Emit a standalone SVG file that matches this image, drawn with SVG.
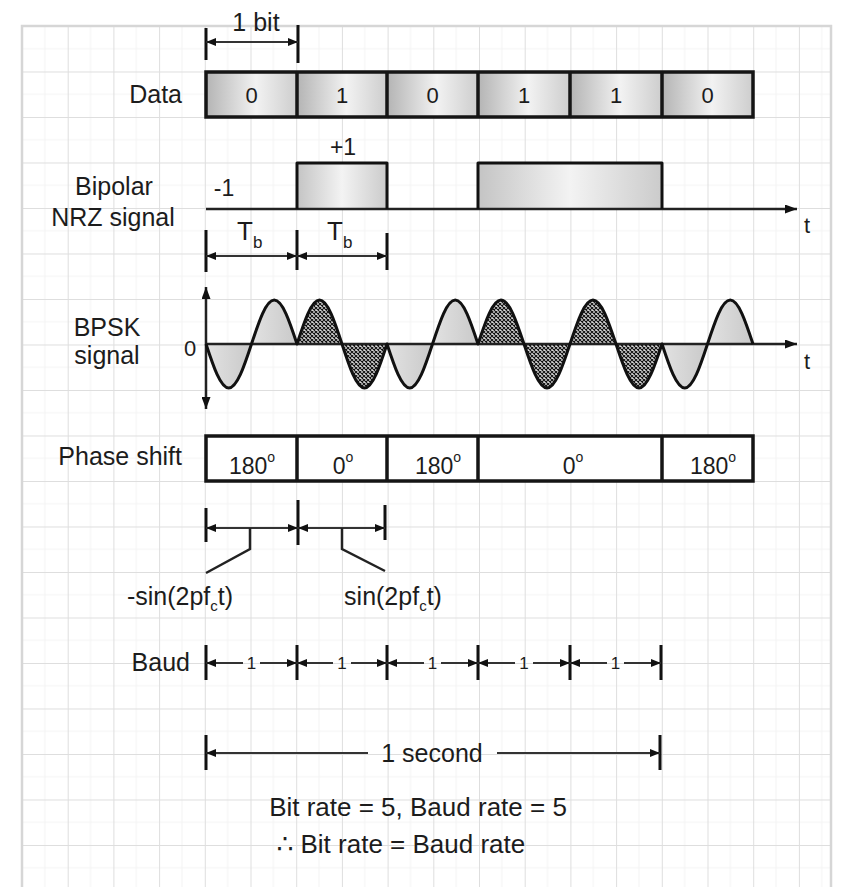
<svg xmlns="http://www.w3.org/2000/svg" width="841" height="887" viewBox="0 0 841 887">
<style>
text{font-family:"Liberation Sans",Arial,"DejaVu Sans",sans-serif;fill:#1c1c1c}
.lbl{font-size:25px}
.mid{text-anchor:middle}
.end{text-anchor:end}
.dig{font-size:22px;text-anchor:middle}
.box{fill:none;stroke:#151515;stroke-width:3.5}
.div{stroke:#151515;stroke-width:3.5}
.sig{fill:none;stroke:#111;stroke-width:3;stroke-linejoin:round}
.axis{stroke:#222;stroke-width:2.5;fill:none}
.dim{stroke:#333;stroke-width:2;fill:none}
.tick{stroke:#111;stroke-width:3}
.lead{stroke:#222;stroke-width:2.5;fill:none}
.lobeG{fill:url(#lobeGrad);stroke:none}
.lobeH{fill:url(#hatch);stroke:none}
</style>
<defs>
<pattern id="grid" x="22" y="26" width="45.7" height="45.5" patternUnits="userSpaceOnUse">
<path d="M22.85,0V45.5M0,22.75H45.7" stroke="#f3f3f3" stroke-width="1"/>
<path d="M0,0V45.5M0,0H45.7" stroke="#dedede" stroke-width="2"/>
</pattern>
<pattern id="hatch" width="4" height="4" patternUnits="userSpaceOnUse">
<rect width="4" height="4" fill="#d8d8d8"/>
<path d="M0,0L4,4M4,0L0,4" stroke="#111" stroke-width="1.1"/>
</pattern>
<linearGradient id="cellGrad" x1="0" y1="0" x2="1" y2="0">
<stop offset="0" stop-color="#b4b4b4"/><stop offset="0.55" stop-color="#f2f2f2"/><stop offset="1" stop-color="#cdcdcd"/>
</linearGradient>
<linearGradient id="pulseGrad" x1="0" y1="0" x2="1" y2="0">
<stop offset="0" stop-color="#c4c4c4"/><stop offset="0.5" stop-color="#f3f3f3"/><stop offset="1" stop-color="#cbcbcb"/>
</linearGradient>
<linearGradient id="lobeGrad" x1="0" y1="0" x2="1" y2="0">
<stop offset="0" stop-color="#e2e2e2"/><stop offset="1" stop-color="#c9c9c9"/>
</linearGradient>
<marker id="ah" viewBox="0 0 10 8" refX="10" refY="4" markerWidth="10" markerHeight="8" markerUnits="userSpaceOnUse" orient="auto-start-reverse">
<path d="M0,0L10,4L0,8z" fill="#111"/>
</marker>
<marker id="ax" viewBox="0 0 12 9" refX="12" refY="4.5" markerWidth="12" markerHeight="9" markerUnits="userSpaceOnUse" orient="auto-start-reverse">
<path d="M0,0L12,4.5L0,9z" fill="#111"/>
</marker>
</defs>

<g id="background">
<rect width="841" height="887" fill="#fff"/>
<rect x="22" y="26" width="809" height="861" fill="url(#grid)"/>
<path d="M22,887V26H831V887" fill="none" stroke="#d6d6d6" stroke-width="2.5"/>
</g>

<g id="labels">
<text class="lbl mid" x="256" y="31">1 bit</text>
<text class="lbl end" x="182" y="103">Data</text>
<text class="lbl mid" x="343" y="155" style="font-size:23px">+1</text>
<text class="lbl mid" x="224" y="196" style="font-size:23px">-1</text>
<text class="lbl mid" x="114" y="195">Bipolar</text>
<text class="lbl mid" x="113" y="226">NRZ signal</text>
<text class="lbl mid" x="807" y="233" style="font-size:22px">t</text>
<text class="lbl" x="237" y="240" style="font-size:26px">T<tspan dy="8" style="font-size:17px">b</tspan></text>
<text class="lbl" x="327" y="240" style="font-size:26px">T<tspan dy="8" style="font-size:17px">b</tspan></text>
<text class="lbl mid" x="107" y="336">BPSK</text>
<text class="lbl mid" x="107" y="364">signal</text>
<text class="lbl mid" x="190" y="356" style="font-size:22px">0</text>
<text class="lbl mid" x="807" y="369" style="font-size:22px">t</text>
<text class="lbl end" x="182" y="465">Phase shift</text>
<text class="lbl mid" x="180" y="605">-sin(2pf<tspan dy="6" style="font-size:15px">c</tspan><tspan dy="-6">t)</tspan></text>
<text class="lbl mid" x="393" y="605">sin(2pf<tspan dy="6" style="font-size:15px">c</tspan><tspan dy="-6">t)</tspan></text>
<text class="lbl end" x="190" y="671">Baud</text>
<text class="lbl mid" x="432" y="762">1 second</text>
<text class="lbl mid" x="418" y="816" style="font-size:26px">Bit rate = 5, Baud rate = 5</text>
<text class="lbl mid" x="401" y="853" style="font-size:26px">∴ Bit rate = Baud rate</text>
</g>

<g id="data-row">
<rect x="206" y="72" width="91" height="45" fill="url(#cellGrad)"/>
<rect x="297" y="72" width="90" height="45" fill="url(#cellGrad)"/>
<rect x="387" y="72" width="91" height="45" fill="url(#cellGrad)"/>
<rect x="478" y="72" width="92" height="45" fill="url(#cellGrad)"/>
<rect x="570" y="72" width="92" height="45" fill="url(#cellGrad)"/>
<rect x="662" y="72" width="91" height="45" fill="url(#cellGrad)"/>
<rect class="box" x="206" y="72" width="547" height="45"/>
<path class="div" d="M297,72V117M387,72V117M478,72V117M570,72V117M662,72V117"/>
<text class="dig" x="251.5" y="103">0</text>
<text class="dig" x="342" y="103">1</text>
<text class="dig" x="432.5" y="103">0</text>
<text class="dig" x="524" y="103">1</text>
<text class="dig" x="616" y="103">1</text>
<text class="dig" x="707.5" y="103">0</text>
</g>

<g id="bipolar-nrz">
<rect x="297" y="163" width="90" height="46" fill="url(#pulseGrad)"/>
<rect x="478" y="163" width="184" height="46" fill="url(#pulseGrad)"/>
<line class="axis" x1="206" y1="209" x2="797" y2="209" marker-end="url(#ax)"/>
<path class="sig" d="M297,209V163H387V209M478,209V163H662V209"/>
</g>

<g id="bpsk-signal">
<path class="lobeG" d="M206,344 C213.42,366.54 220.52,388 228.75,388 C236.98,388 244.08,366.54 251.5,344Z"/>
<path class="lobeG" d="M251.5,344 C258.92,321.46 266.02,300 274.25,300 C282.48,300 289.58,321.46 297,344Z"/>
<path class="lobeH" d="M297,344 C304.34,321.46 311.36,300 319.5,300 C327.64,300 334.66,321.46 342,344Z"/>
<path class="lobeH" d="M342,344 C349.34,366.54 356.36,388 364.5,388 C372.64,388 379.66,366.54 387,344Z"/>
<path class="lobeG" d="M387,344 C394.42,366.54 401.52,388 409.75,388 C417.98,388 425.08,366.54 432.5,344Z"/>
<path class="lobeG" d="M432.5,344 C439.92,321.46 447.02,300 455.25,300 C463.48,300 470.58,321.46 478,344Z"/>
<path class="lobeH" d="M478,344 C485.5,321.46 492.68,300 501,300 C509.32,300 516.5,321.46 524,344Z"/>
<path class="lobeH" d="M524,344 C531.5,366.54 538.68,388 547,388 C555.32,388 562.5,366.54 570,344Z"/>
<path class="lobeH" d="M570,344 C577.5,321.46 584.68,300 593,300 C601.32,300 608.5,321.46 616,344Z"/>
<path class="lobeH" d="M616,344 C623.5,366.54 630.68,388 639,388 C647.32,388 654.5,366.54 662,344Z"/>
<path class="lobeG" d="M662,344 C669.42,366.54 676.52,388 684.75,388 C692.98,388 700.08,366.54 707.5,344Z"/>
<path class="lobeG" d="M707.5,344 C714.92,321.46 722.02,300 730.25,300 C738.48,300 745.58,321.46 753,344Z"/>
<line class="axis" x1="206" y1="344" x2="797" y2="344" marker-end="url(#ax)"/>
<line class="axis" x1="206" y1="287" x2="206" y2="409" stroke-width="3" marker-start="url(#ax)" marker-end="url(#ax)"/>
<path class="sig" d="M206,344 C213.42,366.54 220.52,388 228.75,388 C236.98,388 244.08,366.54 251.5,344 C258.92,321.46 266.02,300 274.25,300 C282.48,300 289.58,321.46 297,344 C304.34,321.46 311.36,300 319.5,300 C327.64,300 334.66,321.46 342,344 C349.34,366.54 356.36,388 364.5,388 C372.64,388 379.66,366.54 387,344 C394.42,366.54 401.52,388 409.75,388 C417.98,388 425.08,366.54 432.5,344 C439.92,321.46 447.02,300 455.25,300 C463.48,300 470.58,321.46 478,344 C485.5,321.46 492.68,300 501,300 C509.32,300 516.5,321.46 524,344 C531.5,366.54 538.68,388 547,388 C555.32,388 562.5,366.54 570,344 C577.5,321.46 584.68,300 593,300 C601.32,300 608.5,321.46 616,344 C623.5,366.54 630.68,388 639,388 C647.32,388 654.5,366.54 662,344 C669.42,366.54 676.52,388 684.75,388 C692.98,388 700.08,366.54 707.5,344 C714.92,321.46 722.02,300 730.25,300 C738.48,300 745.58,321.46 753,344"/>
</g>

<g id="phase-shift-row">
<rect x="206" y="436" width="547" height="45" fill="#fff"/>
<rect class="box" x="206" y="436" width="547" height="45"/>
<path class="div" d="M297,436V481M387,436V481M478,436V481M662,436V481"/>
<text class="dig" x="252" y="474" style="font-size:23px">180<tspan dy="-12" style="font-size:14px">o</tspan></text>
<text class="dig" x="343" y="474" style="font-size:23px">0<tspan dy="-12" style="font-size:14px">o</tspan></text>
<text class="dig" x="438" y="474" style="font-size:23px">180<tspan dy="-12" style="font-size:14px">o</tspan></text>
<text class="dig" x="573" y="474" style="font-size:23px">0<tspan dy="-12" style="font-size:14px">o</tspan></text>
<text class="dig" x="713" y="474" style="font-size:23px">180<tspan dy="-12" style="font-size:14px">o</tspan></text>
</g>

<g id="connectors">
<line class="tick" x1="206" y1="28" x2="206" y2="60"/>
<line class="tick" x1="298" y1="25" x2="298" y2="63"/>
<line class="dim" x1="206" y1="42" x2="298" y2="42" marker-start="url(#ah)" marker-end="url(#ah)"/>

<line class="tick" x1="206" y1="230" x2="206" y2="272"/>
<line class="tick" x1="297" y1="230" x2="297" y2="270"/>
<line class="tick" x1="387" y1="233" x2="387" y2="270"/>
<line class="dim" x1="206" y1="256" x2="297" y2="256" marker-start="url(#ah)" marker-end="url(#ah)"/>
<line class="dim" x1="297" y1="256" x2="387" y2="256" marker-start="url(#ah)" marker-end="url(#ah)"/>

<line class="tick" x1="206" y1="508" x2="206" y2="542"/>
<line class="tick" x1="298" y1="500" x2="298" y2="545"/>
<line class="tick" x1="385" y1="505" x2="385" y2="540"/>
<line class="dim" x1="206" y1="528" x2="298" y2="528" marker-start="url(#ah)" marker-end="url(#ah)"/>
<line class="dim" x1="298" y1="528" x2="385" y2="528" marker-start="url(#ah)" marker-end="url(#ah)"/>
<path class="lead" d="M250,528V549L206,573"/>
<path class="lead" d="M342,528V549L385,571"/>

<path class="tick" d="M206,645V680M297,645V680M387,645V680M478,645V680M570,645V680M661,645V680"/>
<line class="dim" x1="206" y1="663" x2="243" y2="663" marker-start="url(#ah)"/>
<line class="dim" x1="260" y1="663" x2="297" y2="663" marker-end="url(#ah)"/>
<line class="dim" x1="297" y1="663" x2="333" y2="663" marker-start="url(#ah)"/>
<line class="dim" x1="351" y1="663" x2="387" y2="663" marker-end="url(#ah)"/>
<line class="dim" x1="387" y1="663" x2="424" y2="663" marker-start="url(#ah)"/>
<line class="dim" x1="441" y1="663" x2="478" y2="663" marker-end="url(#ah)"/>
<line class="dim" x1="478" y1="663" x2="515" y2="663" marker-start="url(#ah)"/>
<line class="dim" x1="533" y1="663" x2="570" y2="663" marker-end="url(#ah)"/>
<line class="dim" x1="570" y1="663" x2="607" y2="663" marker-start="url(#ah)"/>
<line class="dim" x1="624" y1="663" x2="661" y2="663" marker-end="url(#ah)"/>
<text class="mid" x="251.5" y="669" style="font-size:17px">1</text>
<text class="mid" x="342" y="669" style="font-size:17px">1</text>
<text class="mid" x="432.5" y="669" style="font-size:17px">1</text>
<text class="mid" x="524" y="669" style="font-size:17px">1</text>
<text class="mid" x="615.5" y="669" style="font-size:17px">1</text>

<path class="tick" d="M206,735V770M660,735V770"/>
<line class="dim" x1="206" y1="753" x2="368" y2="753" marker-start="url(#ah)"/>
<line class="dim" x1="497" y1="753" x2="660" y2="753" marker-end="url(#ah)"/>
</g>
</svg>
